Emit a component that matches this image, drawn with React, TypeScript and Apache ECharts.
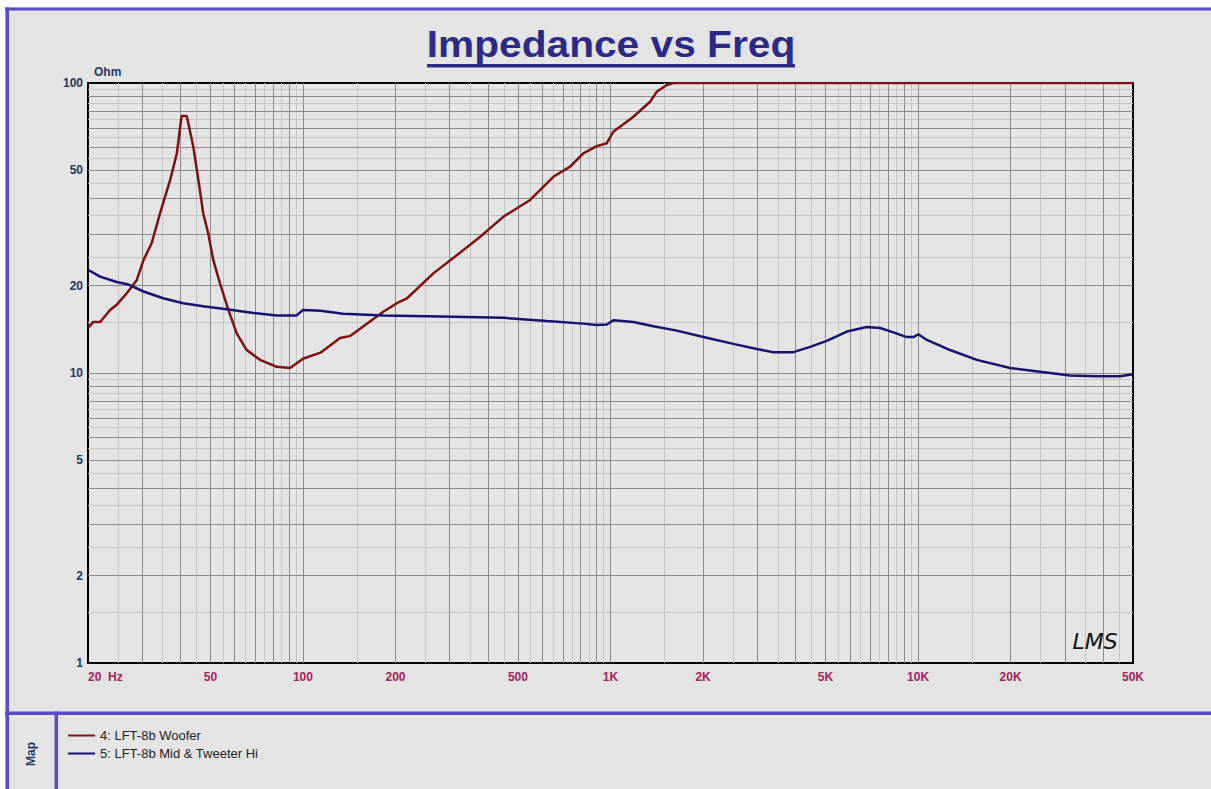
import React, { useEffect, useRef } from "react";
import * as echarts from "echarts";

// ---------- data ----------
const xLabelValues = [20, 50, 100, 200, 500, 1000, 2000, 5000, 10000, 20000, 50000];
const yLabelValues = [1, 2, 5, 10, 20, 50, 100];

const seriesNames = ["4: LFT-8b Woofer", "5: LFT-8b Mid & Tweeter Hi"];

const wooferFreq = [
  20, 20.8, 21.9, 23.6, 24.8, 26.7, 28.8, 30.3, 32.2, 34.3, 37.0, 38.9, 40.3, 41.9,
  44.0, 45.7, 47.4, 49.2, 51.1, 53.7, 57.2, 60.9, 65.6, 72.5, 82.2, 90.8, 95.4, 100,
  114, 132, 142, 183, 202, 218, 266, 308, 377, 449, 548, 652, 739, 816, 902, 973,
  1021, 1187, 1345, 1414, 1524, 1600, 50000,
];
const wooferOhm = [
  14.3, 15.0, 15.0, 16.5, 17.2, 18.8, 20.9, 24.5, 28.0, 35.5, 46.3, 57.2, 77, 77,
  60.3, 46.3, 35.5, 30.3, 24.5, 20.4, 16.5, 13.7, 12.0, 11.1, 10.5, 10.4, 10.8, 11.2,
  11.75, 13.2, 13.4, 16.3, 17.4, 18.1, 22.1, 24.9, 29.5, 34.6, 39.5, 47.5, 51.5, 57.2, 60.6, 62,
  67.9, 76.5, 86.2, 93.3, 98.4, 100, 100,
];

const tweeterFreq = [
  20, 21.9, 24.8, 27.0, 30.3, 35.1, 40.8, 47.4, 56.5, 69.0, 82.2, 95.4, 100, 114,
  135, 183, 253, 341, 449, 621, 816, 902, 973, 1021, 1187, 1379, 1643, 2005, 2509,
  2989, 3386, 3934, 4457, 5050, 5867, 6813, 7527, 8316, 9191, 9659, 10023, 10681,
  12714, 15525, 19926, 24942, 31226, 38130, 45410, 50000,
];
const tweeterOhm = [
  22.7, 21.5, 20.6, 20.2, 19.1, 18.1, 17.4, 17.0, 16.6, 16.1, 15.8, 15.8, 16.5, 16.4,
  16.0, 15.8, 15.7, 15.6, 15.5, 15.1, 14.8, 14.65, 14.7, 15.2, 15.0, 14.5, 14.0, 13.3, 12.6,
  12.1, 11.8, 11.8, 12.3, 12.9, 13.9, 14.4, 14.3, 13.8, 13.3, 13.3, 13.6, 13.0,
  12.0, 11.1, 10.4, 10.1, 9.8, 9.75, 9.75, 9.9,
];

// grid decades (axis decoration)
const xDecades = [10, 100, 1000, 10000];
const yDecades = [1, 10];

function gridValues(decades: number[], lo: number, hi: number, half: boolean): number[] {
  const out: number[] = [];
  decades.forEach((d) => {
    for (let k = 1; k <= 9; k++) {
      const v = (k + (half ? 0.5 : 0)) * d;
      if (v > lo + 1e-9 && v < hi - 1e-9) out.push(v);
    }
  });
  return out;
}

const zip = (a: number[], b: number[]) => a.map((v, i) => [v, b[i]]);

const FRAME = "#5a4bc9";
const TITLE = "#2c2a86";
const YLAB = "#1f3864";
const XLAB = "#a3225e";
const BG = "#e4e4e4";
const FONT = "Arial, 'Liberation Sans', sans-serif";

export default function App() {
  const ref = useRef<HTMLDivElement>(null);

  useEffect(() => {
    if (!ref.current) return;
    const chart = echarts.init(ref.current, null, { renderer: "svg" });

    const xMajor = gridValues(xDecades, 20, 50000, false);
    const xMinor = gridValues(xDecades, 20, 50000, true);
    const yMajor = gridValues(yDecades, 1, 100, false);
    const yMinor = gridValues(yDecades, 1, 100, true);

    const gridSeries = (name: string, color: string, xs: number[], ys: number[]) => ({
      name,
      type: "line",
      data: [],
      silent: true,
      z: 1,
      markLine: {
        silent: true,
        z: 1,
        animation: false,
        symbol: ["none", "none"],
        label: { show: false },
        emphasis: { disabled: true },
        lineStyle: { color, width: 1, type: "solid" },
        data: [...xs.map((v) => ({ xAxis: v })), ...ys.map((v) => ({ yAxis: v }))],
      },
    });

    const option: any = {
      animation: false,
      backgroundColor: "transparent",
      textStyle: { fontFamily: FONT },
      grid: {
        left: 88,
        top: 83,
        width: 1045,
        height: 580,
        show: true,
        borderColor: "#000",
        borderWidth: 2,
        backgroundColor: "transparent",
        containLabel: false,
      },
      xAxis: {
        type: "log",
        logBase: 10,
        min: 20,
        max: 50000,
        axisLine: { show: false },
        axisTick: { show: false },
        splitLine: { show: false },
        minorTick: { show: false },
        minorSplitLine: { show: false },
        axisLabel: {
          customValues: xLabelValues,
          alignMinLabel: "left",
          formatter: (v: number) =>
            v === 20 ? "20  Hz" : v >= 1000 ? v / 1000 + "K" : String(v),
          color: XLAB,
          fontWeight: "bold",
          fontSize: 12,
          margin: 8,
          fontFamily: FONT,
        },
      },
      yAxis: {
        type: "log",
        logBase: 10,
        min: 1,
        max: 100,
        name: "Ohm",
        nameLocation: "end",
        nameGap: 5,
        nameTextStyle: {
          color: YLAB,
          fontWeight: "bold",
          fontSize: 12,
          align: "left",
          padding: [0, 0, 0, 6],
          fontFamily: FONT,
        },
        axisLine: { show: false },
        axisTick: { show: false },
        splitLine: { show: false },
        minorTick: { show: false },
        minorSplitLine: { show: false },
        axisLabel: {
          customValues: yLabelValues,
          color: YLAB,
          fontWeight: "bold",
          fontSize: 12,
          margin: 5,
          fontFamily: FONT,
        },
      },
      legend: {
        data: seriesNames,
        orient: "vertical",
        left: 68,
        top: 729,
        padding: 0,
        itemGap: 5,
        itemWidth: 27,
        itemHeight: 2,
        icon: "rect",
        selectedMode: false,
        textStyle: { fontSize: 13, color: "#222", fontFamily: FONT },
      },
      graphic: [
        { type: "rect", z: -10, silent: true, shape: { x: 5, y: 7, width: 1206, height: 782 }, style: { fill: BG } },
        { type: "rect", z: 10, silent: true, shape: { x: 5, y: 7.5, width: 1206, height: 3 }, style: { fill: FRAME } },
        { type: "rect", z: 10, silent: true, shape: { x: 5.5, y: 7.5, width: 3.5, height: 782 }, style: { fill: FRAME } },
        { type: "rect", z: 10, silent: true, shape: { x: 5, y: 711.5, width: 1206, height: 3.5 }, style: { fill: FRAME } },
        { type: "rect", z: 10, silent: true, shape: { x: 54.5, y: 711.5, width: 3.5, height: 78 }, style: { fill: FRAME } },
        {
          type: "text",
          z: 10,
          silent: true,
          x: 611,
          y: 44,
          scaleX: 1.13,
          style: {
            text: "Impedance vs Freq",
            fill: TITLE,
            fontSize: 36,
            fontWeight: "bold",
            fontFamily: FONT,
            align: "center",
            verticalAlign: "middle",
            textAlign: "center",
            textVerticalAlign: "middle",
          },
        },
        { type: "rect", z: 10, silent: true, shape: { x: 427, y: 64, width: 368, height: 3.5 }, style: { fill: TITLE } },
        {
          type: "text",
          z: 10,
          silent: true,
          x: 31,
          y: 754,
          rotation: Math.PI / 2,
          style: {
            text: "Map",
            fill: YLAB,
            fontSize: 12,
            fontWeight: "bold",
            fontFamily: FONT,
            align: "center",
            verticalAlign: "middle",
            textAlign: "center",
            textVerticalAlign: "middle",
          },
        },
        {
          type: "text",
          z: 10,
          silent: true,
          x: 1095,
          y: 641,
          style: {
            text: "LMS",
            fill: "#111",
            fontSize: 22,
            fontStyle: "italic",
            fontWeight: "normal",
            fontFamily: "'DejaVu Sans', sans-serif",
            align: "center",
            verticalAlign: "middle",
            textAlign: "center",
            textVerticalAlign: "middle",
          },
        },
      ],
      series: [
        gridSeries("gridMinor", "#c4c4c4", xMinor, yMinor),
        gridSeries("gridMajor", "#8c8c8c", xMajor, yMajor),
        {
          name: seriesNames[0],
          type: "line",
          data: zip(wooferFreq, wooferOhm),
          symbol: "none",
          showSymbol: false,
          color: "#7d1010",
          lineStyle: { color: "#7d1010", width: 2.5 },
          z: 3,
          silent: true,
        },
        {
          name: seriesNames[1],
          type: "line",
          data: zip(tweeterFreq, tweeterOhm),
          symbol: "none",
          showSymbol: false,
          color: "#14146e",
          lineStyle: { color: "#14146e", width: 2.5 },
          z: 3,
          silent: true,
        },
      ],
    };

    chart.setOption(option);
    return () => chart.dispose();
  }, []);

  return (
    <div
      style={{ position: "fixed", left: 0, top: 0, width: 1211, height: 789, background: "#fff" }}
    >
      <div ref={ref} style={{ width: 1211, height: 789 }} />
    </div>
  );
}
